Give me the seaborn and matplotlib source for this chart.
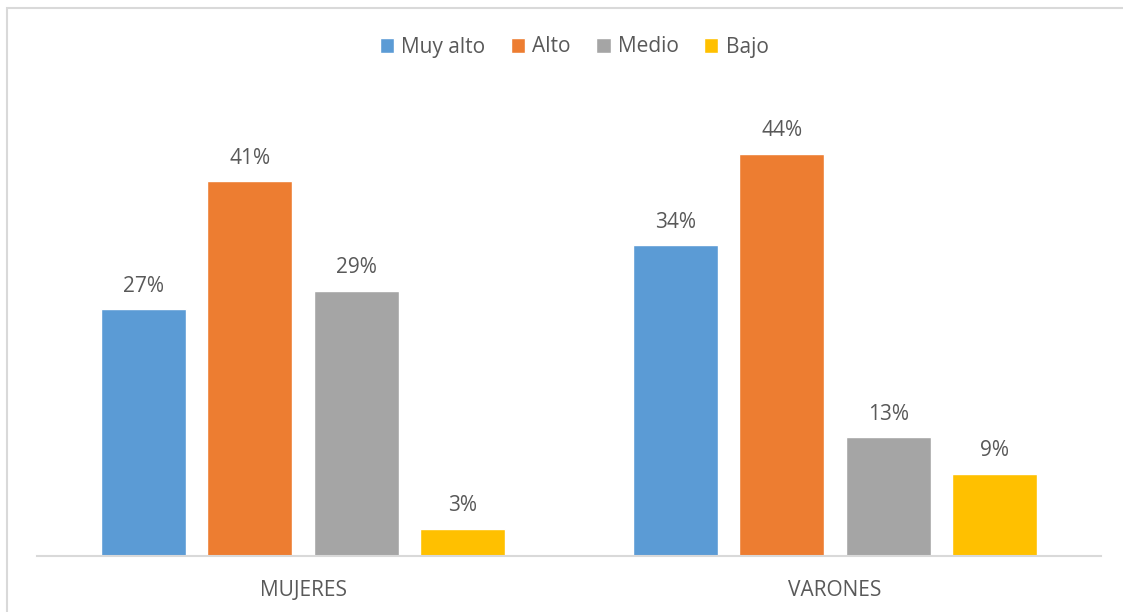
import matplotlib
matplotlib.use("Agg")
import matplotlib.pyplot as plt
from matplotlib.patches import Rectangle
import seaborn as sns
import pandas as pd

categories = ["MUJERES", "VARONES"]
levels = ["Muy alto", "Alto", "Medio", "Bajo"]
mujeres = [0.27, 0.41, 0.29, 0.03]
varones = [0.34, 0.44, 0.13, 0.09]
colors = ["#5B9BD5", "#ED7D31", "#A5A5A5", "#FFC000"]

rows = []
for lvl, m, v in zip(levels, mujeres, varones):
    rows.append({"grupo": "MUJERES", "nivel": lvl, "valor": m})
    rows.append({"grupo": "VARONES", "nivel": lvl, "valor": v})
df = pd.DataFrame(rows)

sns.set_style("white")
plt.rcParams["font.family"] = ["Open Sans", "DejaVu Sans"]

W, H = 1123, 612
fig = plt.figure(figsize=(W / 100, H / 100), dpi=100)
ax = fig.add_axes([37 / W, (H - 556) / H, (1101 - 37) / W, (556 - 99) / H])

sns.barplot(data=df, x="grupo", y="valor", hue="nivel", order=categories,
            hue_order=levels, palette=colors, width=0.8, gap=0.2,
            saturation=1, ax=ax, legend=True)

ax.set_ylim(0, 0.5)
ax.set_xlim(-0.5, 1.5)
ax.set_xlabel("")
ax.set_ylabel("")
ax.set_yticks([])
ax.tick_params(axis="x", length=0, pad=17, labelsize=15, labelcolor="#595959")
for s in ["top", "right", "left"]:
    ax.spines[s].set_visible(False)
ax.spines["bottom"].set_color("#d9d9d9")
ax.spines["bottom"].set_linewidth(1.5)

for cont in ax.containers:
    ax.bar_label(cont, labels=[f"{v*100:.0f}%" for v in cont.datavalues],
                 padding=9, fontsize=15, color="#595959")

handles, labels = ax.get_legend_handles_labels()
ax.legend_.remove()
fig.legend(handles, labels, loc="center", bbox_to_anchor=(574 / W, 1 - 47 / H),
           ncol=4, frameon=False, fontsize=15, handlelength=0.7, handleheight=0.7,
           handletextpad=0.35, columnspacing=1.2, labelcolor="#595959")

fig.add_artist(Rectangle((7 / W, -0.1), 1.2, (H - 8) / H + 0.1, fill=False,
                         edgecolor="#d9d9d9", linewidth=1.5, transform=fig.transFigure))

fig.savefig("out.png", dpi=100)
